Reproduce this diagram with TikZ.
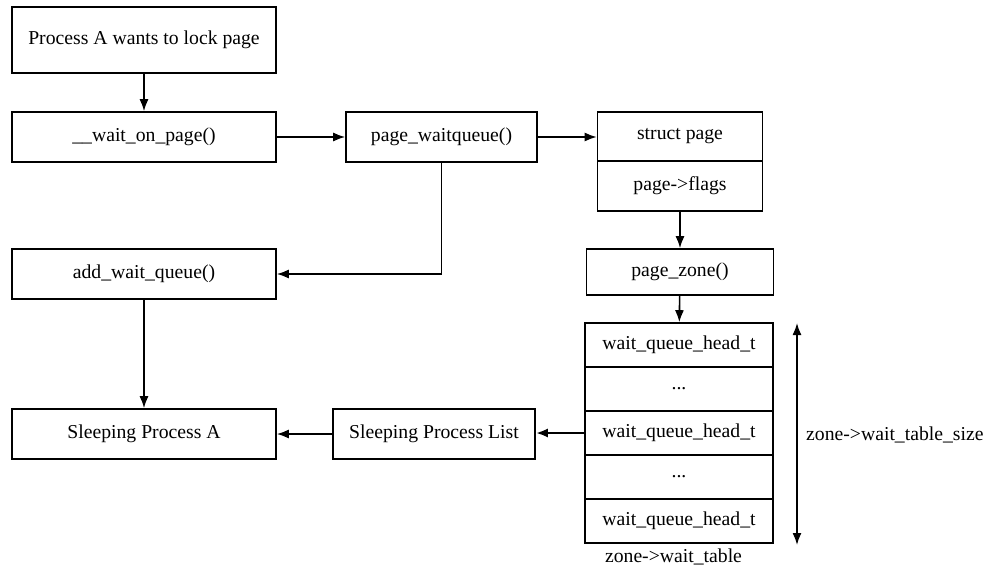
\documentclass[tikz,border=0pt]{standalone}
\usepackage{fontspec}
\setmainfont{Liberation Serif}
\usetikzlibrary{arrows.meta}
\tikzset{
  box/.style={draw, line width=1.6pt, inner sep=0pt, font=\fontsize{19.7}{22}\selectfont},
  tip/.tip={Latex[length=12pt,width=9pt]},
  conn/.style={line width=1.6pt, -tip},
  lbl/.style={inner sep=0pt, font=\fontsize{19.7}{22}\selectfont}
}
\begin{document}
\begin{tikzpicture}[x=1pt,y=-1pt]
\useasboundingbox (0,0) rectangle (985,568);
% left column
\node[box, minimum width=264pt, minimum height=66pt] (pa) at (144,40) {Process A wants to lock page};
\node[box, minimum width=264pt, minimum height=50pt] (wop) at (144,137) {\_\_wait\_on\_page()};
\node[box, minimum width=264pt, minimum height=50pt] (awq) at (144,274) {add\_wait\_queue()};
\node[box, minimum width=264pt, minimum height=50pt] (spa) at (144,434) {Sleeping Process A};
% middle
\node[box, minimum width=191pt, minimum height=50pt] (pwq) at (441.5,137) {page\_waitqueue()};
\node[box, minimum width=202pt, minimum height=50pt] (spl) at (434,434) {Sleeping Process List};
% struct page
\node[box, minimum width=165pt, minimum height=49pt] (sp) at (680,136.5) {struct page};
\node[box, minimum width=165pt, minimum height=50pt] (fl) at (680,186) {page->flags};
\node[box, minimum width=187pt, minimum height=46pt] (pz) at (680,272) {page\_zone()};
% wait table
\node[box, minimum width=188pt, minimum height=44pt] (t1) at (679,345) {wait\_queue\_head\_t};
\node[box, minimum width=188pt, minimum height=44pt] (t2) at (679,389) {...};
\node[box, minimum width=188pt, minimum height=44pt] (t3) at (679,433) {wait\_queue\_head\_t};
\node[box, minimum width=188pt, minimum height=44pt] (t4) at (679,477) {...};
\node[box, minimum width=188pt, minimum height=44pt] (t5) at (679,521) {wait\_queue\_head\_t};
\node[lbl] (wt) at (673.5,557) {zone->wait\_table};
\coordinate (st) at (797,323);
\coordinate (sb) at (797,545);
\node[lbl, anchor=west] (wts) at (806,435) {zone->wait\_table\_size};
% connectors
\draw[conn] (pa) -- (wop);
\draw[conn] (wop) -- (pwq);
\draw[conn] (pwq.east) -- (pwq.east -| sp.west);
\draw[conn] (fl) -- (pz);
\draw[conn] (pz) -- (t1);
\draw[conn] (pwq.south) |- (awq.east);
\draw[conn] (awq) -- (spa);
\draw[conn] (spl) -- (spa);
\draw[conn, line width=2.4pt] (t3.west) -- (t3.west -| spl.east);
\draw[line width=1.6pt, tip-tip] (st) -- (sb);
\end{tikzpicture}
\end{document}
